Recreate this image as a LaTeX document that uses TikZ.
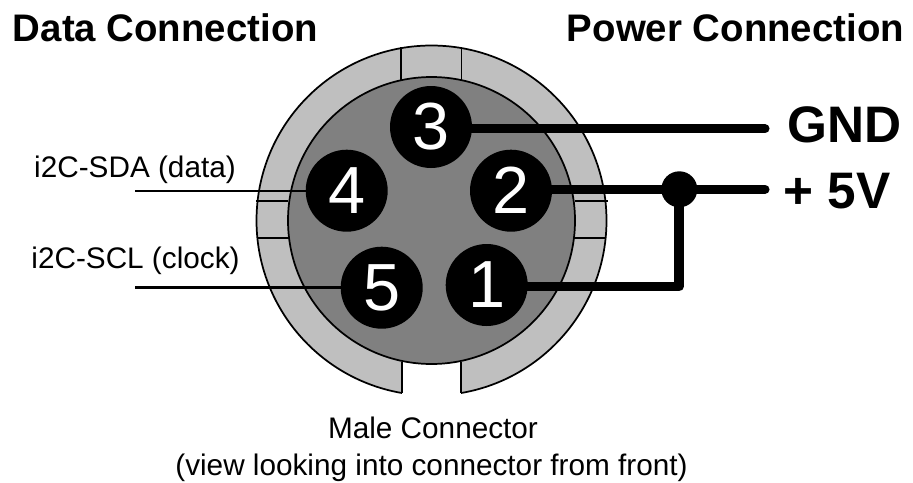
\documentclass[tikz,border=0pt]{standalone}
\usepackage{fontspec}
\setmainfont{Liberation Sans}
\tikzset{x=0.75pt,y=-0.75pt,
 pin/.style={circle,fill=black,draw=none,minimum size=61.5pt,inner sep=0pt,text=white,font=\fontsize{50}{50}\selectfont},
 thickwire/.style={line width=6.8pt,line cap=round,line join=round},
 thinwire/.style={line width=1.8pt},
 head/.style={font=\fontsize{28.8}{29}\selectfont\bfseries,inner sep=0pt,anchor=base},
 power/.style={font=\fontsize{38.5}{39}\selectfont\bfseries,inner sep=0pt,anchor=base west},
 lab/.style={font=\fontsize{22.3}{23}\selectfont,inner sep=0pt,anchor=base},
 outline/.style={draw=black,line width=1.3pt}}
\definecolor{lightg}{gray}{0.75}
\definecolor{midg}{gray}{0.5}
\begin{document}
\begin{tikzpicture}
\useasboundingbox (0,0) rectangle (913,482);
\def\cx{431.5}\def\cy{220.5}
\path[outline,fill=lightg] (\cx,\cy) circle [radius=175];
\fill[white] (401.7,345) rectangle (461,400);
\draw[outline] (401.7,362) -- (401.7,393);
\draw[outline] (461,362) -- (461,393);
\draw[outline] (401,47) -- (401,80);
\draw[outline] (461.5,47) -- (461.5,80);
\draw[outline] (256,201) -- (288,201);
\draw[outline] (257,238) -- (289,238);
\draw[outline] (575,201) -- (608,201);
\draw[outline] (574,238) -- (606,238);
\path[outline,fill=midg] (\cx,\cy) circle [radius=143.5];
\coordinate (e3) at (765,128.7);
\coordinate (e2) at (765,189.3);
\coordinate (e4) at (135,190.7);
\coordinate (e5) at (135,287.5);
\coordinate (turn) at (679,286.7);
\coordinate (c3) at (431,127);
\coordinate (c2) at (511,190.7);
\coordinate (c4) at (346.7,190.7);
\coordinate (c5) at (381.7,287.7);
\coordinate (c1) at (486.7,285);
\draw[thickwire] (c3 |- e3) -- (e3);
\draw[thickwire] (c2 |- e2) -- (e2);
\draw[thickwire] (c1 |- turn) -- (turn) -- (679,189.3);
\draw[thinwire] (e4) -- (c4 |- e4);
\draw[thinwire] (e5) -- (c5 |- e5);
\node[pin] (p3) at (c3) {3};
\node[pin] (p2) at (c2) {2};
\node[pin] (p4) at (c4) {4};
\node[pin] (p5) at (c5) {5};
\node[pin] (p1) at (c1) {1};
\node[circle,fill=black,minimum size=27pt,inner sep=0pt] (dot) at (679.3,189.3) {};
\node[head] (t1) at (165.5,41) {Data Connection};
\node[head] (t2) at (735.5,41) {Power Connection};
\node[power] (t3) at (787,142) {GND};
\node[power] (t4) at (783,208) {+ 5V};
\node[lab] (t5) at (135,177) {i2C-SDA (data)};
\node[lab] (t6) at (135.5,268) {i2C-SCL (clock)};
\node[lab] (t7) at (433,438) {Male Connector};
\node[lab] (t8) at (431.5,475) {(view looking into connector from front)};
\end{tikzpicture}
\end{document}
